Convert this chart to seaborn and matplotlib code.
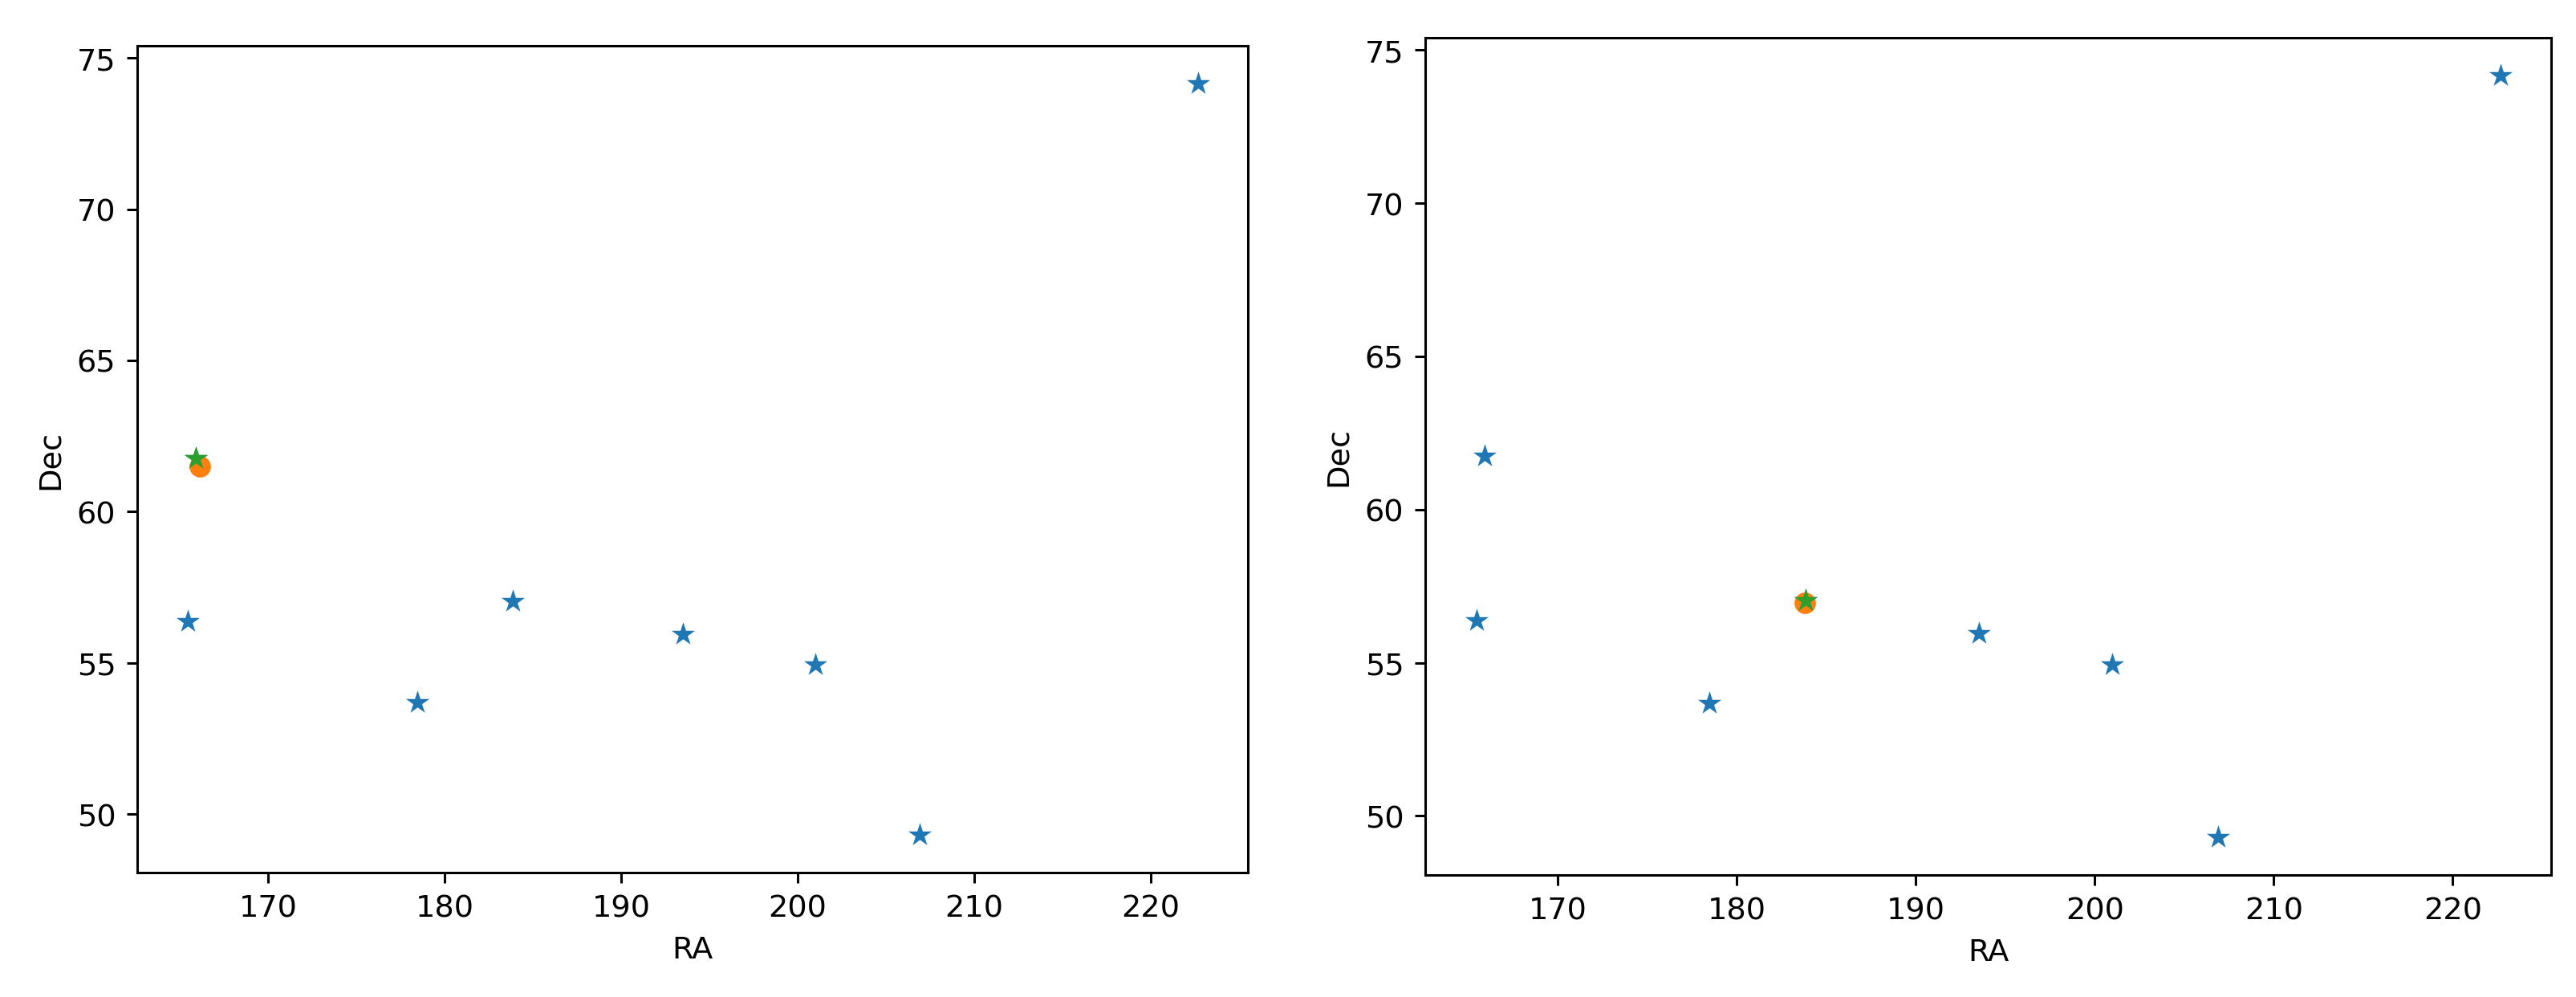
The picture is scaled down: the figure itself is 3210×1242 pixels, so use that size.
import pandas as pd
import matplotlib
matplotlib.use('Agg')
import matplotlib.pyplot as plt
import seaborn as sns

# Big Dipper stars (plus Kochab) in RA / Dec degrees
star_ra = [165.93, 165.46, 178.46, 183.86, 193.51, 200.98, 206.89, 222.68]
star_dec = [61.75, 56.38, 53.69, 57.03, 55.96, 54.93, 49.31, 74.16]

# estimated position (orange) and matched star (green) for each panel
guess_ra = [166.15, 183.80]
guess_dec = [61.50, 56.95]
match_ra = [165.93, 183.86]
match_dec = [61.75, 57.03]


def draw_panel(ax, i):
    stars = pd.DataFrame({'RA': star_ra, 'Dec': star_dec})
    sns.scatterplot(data=stars, x='RA', y='Dec', marker='*', s=64,
                    color='tab:blue', linewidth=0, ax=ax)
    sns.scatterplot(x=[guess_ra[i]], y=[guess_dec[i]], marker='o', s=49,
                    color='tab:orange', linewidth=0, ax=ax)
    sns.scatterplot(x=[match_ra[i]], y=[match_dec[i]], marker='*', s=64,
                    color='tab:green', linewidth=0, ax=ax)
    ax.set_xlabel('RA')
    ax.set_ylabel('Dec')


def create_plot():
    fig = plt.figure(figsize=(3210 / 275, 1243 / 275), dpi=275)
    ax1 = fig.add_axes([0.0533, 0.1247, 0.4312, 0.8286])
    ax2 = fig.add_axes([0.5533, 0.1223, 0.4371, 0.8391])
    draw_panel(ax1, 0)
    draw_panel(ax2, 1)
    for ax in (ax1, ax2):
        ax.set_xlim(162.6, 225.5)
        ax.set_ylim(48.07, 75.40)
    fig.savefig('out.png', dpi=275)
    plt.close(fig)


if __name__ == "__main__":
    create_plot()
